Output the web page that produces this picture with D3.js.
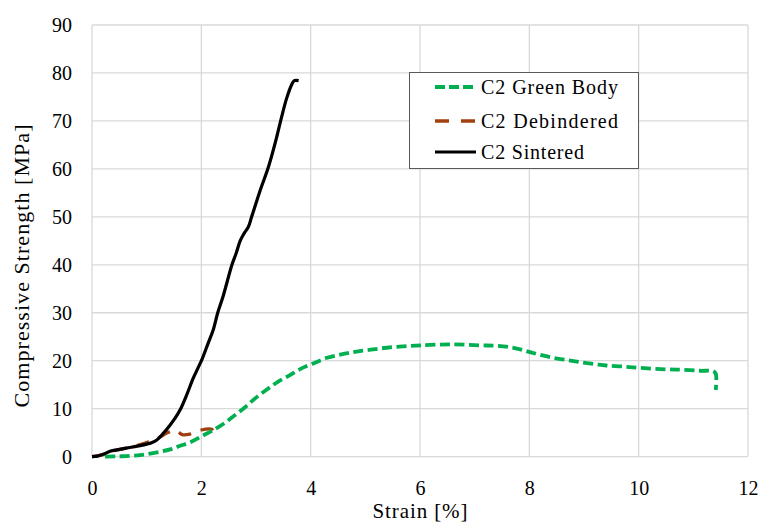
<!DOCTYPE html>
<html><head><meta charset="utf-8">
<script src="https://cdn.jsdelivr.net/npm/d3@7"></script>
</head><body style="margin:0">
<svg id="c" width="761" height="523" font-family="Liberation Serif"></svg>
<script>
const xTicks = [0,2,4,6,8,10,12];
const yTicks = [0,10,20,30,40,50,60,70,80,90];
const seriesNames = ["C2 Green Body","C2 Debindered","C2 Sintered"];
const greenStrain = [0.24,0.5,0.88,1.24,1.43,1.6,1.8,2.0,2.2,2.4,2.6,2.8,3.0,3.2,3.4,3.62,3.8,4.02,4.3,4.6,4.84,5.1,5.39,5.7,6.02,6.55,7.1,7.4,7.65,7.85,8.01,8.2,8.44,8.7,8.93,9.2,9.41,9.7,10.02,10.51,10.8,11.12,11.36,11.41,11.41];
const greenStress = [0,0.05,0.3,1.0,1.5,2.2,3.0,4.2,5.4,6.8,8.5,10.3,12.3,14.0,15.6,17.0,18.2,19.3,20.6,21.4,21.9,22.3,22.7,23.0,23.2,23.4,23.2,23.1,22.8,22.3,21.8,21.2,20.6,20.1,19.7,19.3,19.0,18.8,18.5,18.2,18.1,17.9,17.8,17.3,13.9];
const debStrain = [0,0.2,0.4,0.6,0.88,1.0,1.1,1.2,1.37,1.49,1.55,1.65,1.79,1.98,2.19,2.25];
const debStress = [0,0.4,1.2,1.7,2.5,2.9,3.3,3.8,4.9,5.4,5.4,4.6,4.7,5.5,5.7,4.6];
const sinStrain = [0,0.1,0.25,0.33,0.5,0.69,0.88,1.0,1.09,1.18,1.3,1.43,1.52,1.61,1.73,1.85,1.94,2.02,2.12,2.22,2.3,2.4,2.56,2.64,2.71,2.78,2.86,2.92,3.07,3.23,3.38,3.47,3.56,3.65,3.7,3.78];
const sinStress = [0,0.1,0.7,1.1,1.5,1.9,2.3,2.6,2.9,3.4,4.8,6.6,8.0,9.7,12.8,16.3,18.5,20.5,23.5,26.5,30,33.5,40,42.5,45,46.5,47.9,50,55.3,60.5,66.7,70.9,74.7,77.5,78.4,78.4];

const FAM = "Liberation Serif";
const svg = d3.select("#c");
const x = d3.scaleLinear().domain([0,12]).range([92,748]);
const y = d3.scaleLinear().domain([0,90]).range([456.6,25]);

svg.append("g").selectAll("line").data(yTicks).join("line")
  .attr("x1",x(0)).attr("x2",x(12)).attr("y1",d=>y(d)).attr("y2",d=>y(d))
  .attr("stroke","#d9d9d9").attr("stroke-width",1.3);
svg.append("g").selectAll("line").data(xTicks).join("line")
  .attr("y1",y(0)).attr("y2",y(90)).attr("x1",d=>x(d)).attr("x2",d=>x(d))
  .attr("stroke","#d9d9d9").attr("stroke-width",1.3);

const gx = svg.append("g").attr("transform","translate(0," + y(0) + ")")
  .call(d3.axisBottom(x).tickValues(xTicks).tickSize(0).tickPadding(0))
  .attr("font-family",FAM).attr("font-size",20);
gx.select(".domain").remove();
gx.selectAll("text").attr("dy",null).attr("y",38).attr("font-family",FAM).attr("fill","#000");
const gy = svg.append("g").attr("transform","translate(72,0)")
  .call(d3.axisLeft(y).tickValues(yTicks).tickSize(0).tickPadding(0))
  .attr("font-family",FAM).attr("font-size",20);
gy.select(".domain").remove();
gy.selectAll("text").attr("dy","0.34em").attr("font-family",FAM).attr("fill","#000");

svg.append("text").attr("x",420).attr("y",518).attr("text-anchor","middle")
  .attr("font-size",21).attr("font-family",FAM)
  .attr("textLength",95).attr("lengthAdjust","spacing").text("Strain [%]");
svg.append("text").attr("transform","translate(29,266) rotate(-90)").attr("text-anchor","middle")
  .attr("font-size",22).attr("font-family",FAM)
  .attr("textLength",283).attr("lengthAdjust","spacing").text("Compressive Strength [MPa]");

const line = d3.line().x(d=>x(d[0])).y(d=>y(d[1])).curve(d3.curveCatmullRom.alpha(0.5));
const styles = [
  {data:d3.zip(greenStrain, greenStress),color:"#00b050",w:3.8,dash:"10,4.5"},
  {data:d3.zip(debStrain, debStress),color:"#a0410f",w:3.3,dash:"13,10"},
  {data:d3.zip(sinStrain, sinStress),color:"#000000",w:3.2,dash:null}
];
[styles[1],styles[0],styles[2]].forEach(s=>{
  svg.append("path").attr("d",line(s.data)).attr("fill","none")
    .attr("stroke",s.color).attr("stroke-width",s.w)
    .attr("stroke-dasharray",s.dash).attr("stroke-linejoin","round");
});

const lg = svg.append("g");
lg.append("rect").attr("x",409.5).attr("y",72.5).attr("width",229).attr("height",96)
  .attr("fill","#fff").attr("stroke","#595959").attr("stroke-width",1);
const ly = [87,121,152];
const lens = [137,137,103];
seriesNames.forEach((n,i)=>{
  const s = styles[i];
  lg.append("line").attr("x1",435).attr("x2",476).attr("y1",ly[i]).attr("y2",ly[i])
    .attr("stroke",s.color).attr("stroke-width",s.w)
    .attr("stroke-dasharray", i===0?"10,4":(i===1?"14,12":null));
  lg.append("text").attr("x",481).attr("y",ly[i]+7)
    .attr("font-size",20).attr("font-family",FAM)
    .attr("textLength",lens[i]).attr("lengthAdjust","spacing").text(n);
});
</script>
</body></html>
